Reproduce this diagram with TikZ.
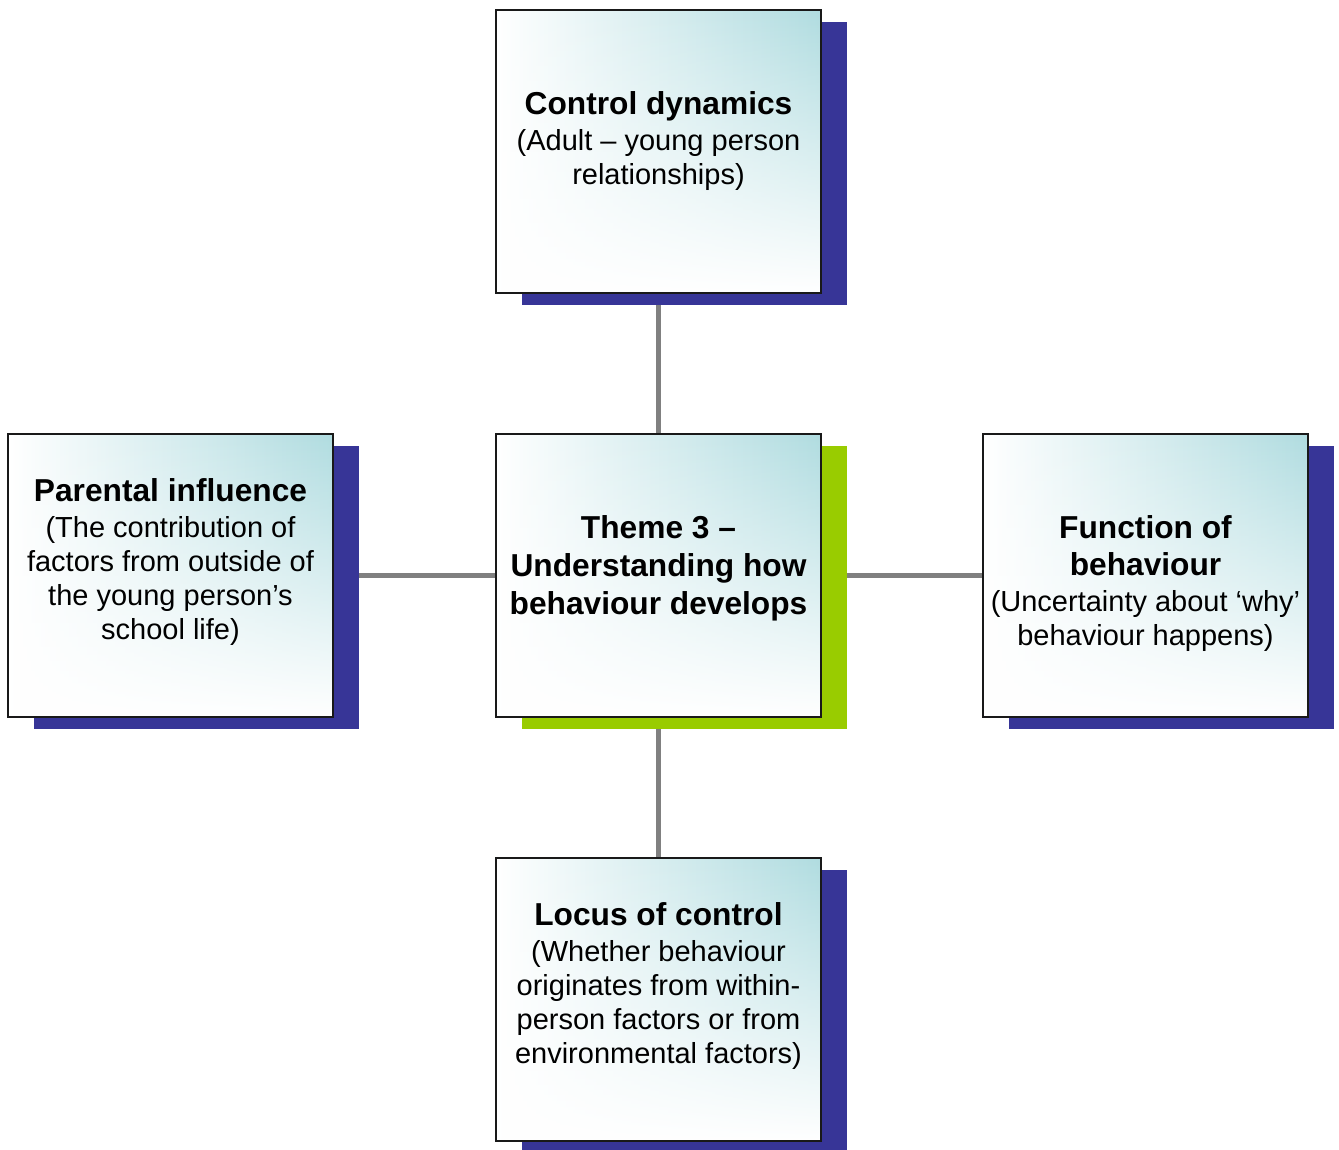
\documentclass[tikz,border=0pt]{standalone}
\usepackage{fontspec}
\setmainfont{Liberation Sans}
\usetikzlibrary{shadows,fadings,backgrounds}

\definecolor{shadowblue}{RGB}{55,53,151}
\definecolor{limegreen}{RGB}{153,204,0}
\definecolor{paleteal}{RGB}{176,220,224}
\definecolor{linkgray}{RGB}{128,128,128}

\newcommand{\heading}[1]{{\bfseries\fontsize{31.7}{34}\selectfont #1}}

\tikzset{
  panel/.style={
    draw=black!90, line width=1.8pt, inner sep=0pt,
    minimum width=325pt, minimum height=283pt,
    path picture={
      \shade[left color=white, right color=paleteal]
        (path picture bounding box.south west) rectangle (path picture bounding box.north east);
      \fill[white, path fading=north]
        (path picture bounding box.south west) rectangle (path picture bounding box.north east);
    },
    drop shadow={shadow xshift=26pt, shadow yshift=-12pt, shadow scale=1,
                 fill=#1, opacity=1, draw=none}
  },
  panel/.default=shadowblue,
  caption/.style={align=center, inner sep=0pt, text=black,
    font=\fontsize{29}{34}\selectfont},
  link/.style={draw=linkgray, line width=5.5pt}
}

\begin{document}
\begin{tikzpicture}[x=1pt,y=1pt]
  \useasboundingbox (0,0) rectangle (1339,1149);

  % theme panels
  \node[panel] (top) at (658.5,997.5) {};
  \node[panel=limegreen] (hub) at (658.5,573.5) {};
  \node[panel] (left) at (170.5,573.5) {};
  \node[panel] (right) at (1145.5,573.5) {};
  \node[panel] (bottom) at (658.5,149.5) {};

  % connectors run behind the panels and their shadows
  \begin{scope}[on background layer]
    \draw[link] (hub) -- (top);
    \draw[link] (hub) -- (bottom);
    \draw[link] (hub) -- (left);
    \draw[link] (hub) -- (right);
  \end{scope}

  % panel texts
  \node[caption] (topT) at (658.5,1007.5)
    {\heading{Control dynamics}\\[2pt](Adult – young person\\relationships)};
  \node[caption] (hubT) at (658.5,581)
    {\heading{Theme 3 –}\\[4pt]\heading{Understanding how}\\[4pt]\heading{behaviour develops}};
  \node[caption] (leftT) at (170.5,587)
    {\heading{Parental influence}\\[2pt](The contribution of\\factors from outside of\\the young person’s\\school life)};
  \node[caption] (rightT) at (1145.5,565.5)
    {\heading{Function of}\\[3pt]\heading{behaviour}\\[2pt](Uncertainty about ‘why’\\behaviour happens)};
  \node[caption] (bottomT) at (658.5,163)
    {\heading{Locus of control}\\[2pt](Whether behaviour\\originates from within-\\person factors or from\\environmental factors)};
\end{tikzpicture}
\end{document}
